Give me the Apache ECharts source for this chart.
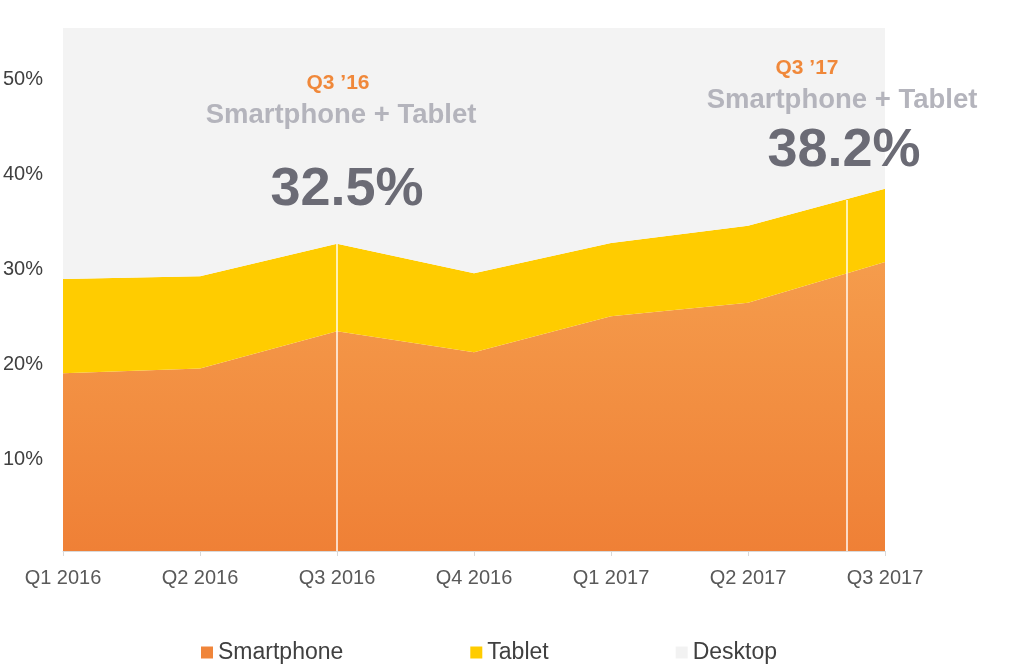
<!DOCTYPE html>
<html>
<head>
<meta charset="utf-8">
<style>html,body{margin:0;padding:0;background:#fff;}#c{width:1024px;height:669px;}</style>
<script src="https://cdn.jsdelivr.net/npm/echarts@6/dist/echarts.min.js"></script>
</head>
<body>
<div id="c"></div>
<script>
var categories = ['Q1 2016','Q2 2016','Q3 2016','Q4 2016','Q1 2017','Q2 2017','Q3 2017'];
var smartphone = [18.7, 19.2, 23.1, 20.9, 24.7, 26.1, 30.4];
var tablet     = [9.9, 9.7, 9.2, 8.3, 7.7, 8.1, 7.7];
var desktop    = [71.4, 71.1, 67.7, 70.8, 67.6, 65.8, 61.9];
var yTicks = [0, 10, 20, 30, 40, 50];
var markerPositions = [2, 5.72];
var markerTops = [32.3, 36.9];

var FONT = 'Liberation Sans, Arial, sans-serif';
var chart = echarts.init(document.getElementById('c'));

var markData = markerPositions.map(function (p, i) {
  return [{coord: [p, 0]}, {coord: [p, markerTops[i]]}];
});

chart.setOption({
  animation: false,
  textStyle: {fontFamily: FONT},
  grid: {left: 63, right: 139, top: 28, bottom: 118},
  title: [
    {text: "Q3 \u201916", left: 333, top: 68, textAlign: 'center',
     textStyle: {fontFamily: FONT, fontSize: 21, fontWeight: 'bold', color: '#F0883A'}},
    {text: 'Smartphone + Tablet', left: 336, top: 96, textAlign: 'center',
     textStyle: {fontFamily: FONT, fontSize: 27.5, fontWeight: 'bold', color: '#B4B4BC'}},
    {text: '32.5%', left: 342, top: 158, textAlign: 'center',
     textStyle: {fontFamily: FONT, fontSize: 54, fontWeight: 'bold', color: '#6B6B75'}},
    {text: "Q3 \u201917", left: 802, top: 53, textAlign: 'center',
     textStyle: {fontFamily: FONT, fontSize: 21, fontWeight: 'bold', color: '#F0883A'}},
    {text: 'Smartphone + Tablet', left: 837, top: 81, textAlign: 'center',
     textStyle: {fontFamily: FONT, fontSize: 27.5, fontWeight: 'bold', color: '#B4B4BC'}},
    {text: '38.2%', left: 839, top: 119, textAlign: 'center',
     textStyle: {fontFamily: FONT, fontSize: 54, fontWeight: 'bold', color: '#6B6B75'}}
  ],
  legend: {
    left: 196, top: 636, itemGap: 127, icon: 'rect', itemWidth: 12, itemHeight: 12,
    textStyle: {fontFamily: FONT, fontSize: 23, color: '#404040'},
    data: ['Smartphone', 'Tablet', 'Desktop']
  },
  xAxis: [{
    type: 'category', data: categories, boundaryGap: false,
    axisLine: {lineStyle: {color: '#D9D9D9', width: 1}},
    axisTick: {show: true, length: 5, lineStyle: {color: '#D9D9D9'}},
    axisLabel: {fontFamily: FONT, fontSize: 20, color: '#595959', margin: 17}
  }, {
    type: 'value', min: 0, max: categories.length - 1, show: false
  }],
  yAxis: {
    type: 'value', min: 0, max: 55, interval: 10,
    axisLine: {show: false}, axisTick: {show: false}, splitLine: {show: false},
    axisLabel: {
      fontFamily: FONT, fontSize: 20, color: '#404040', align: 'left', margin: 60,
      verticalAlign: 'top', lineHeight: 7,
      formatter: function (v) { return yTicks.indexOf(v) > 0 ? v + '%' : ''; }
    }
  },
  series: [{
    name: 'Smartphone', type: 'line', stack: 'total', data: smartphone,
    showSymbol: false, symbol: 'none', lineStyle: {width: 0}, color: '#F0853A',
    areaStyle: {opacity: 1, color: new echarts.graphic.LinearGradient(0, 0, 0, 1, [
      {offset: 0, color: '#F59C4C'}, {offset: 1, color: '#EF8036'}])}
  }, {
    name: 'Tablet', type: 'line', stack: 'total', data: tablet,
    showSymbol: false, symbol: 'none', lineStyle: {width: 0}, color: '#FFCC00',
    areaStyle: {opacity: 1, color: '#FFCC00'}
  }, {
    name: 'Desktop', type: 'line', stack: 'total', data: desktop,
    showSymbol: false, symbol: 'none', lineStyle: {width: 0}, color: '#F2F2F2',
    areaStyle: {opacity: 1, color: '#F3F3F3'}
  }, {
    name: 'markers', type: 'line', xAxisIndex: 1, data: [], z: 10,
    markLine: {
      silent: true, symbol: ['none', 'none'], label: {show: false},
      lineStyle: {color: '#FFFFFF', width: 1.5, type: 'solid', opacity: 0.95},
      data: markData
    }
  }]
});
</script>
</body>
</html>
